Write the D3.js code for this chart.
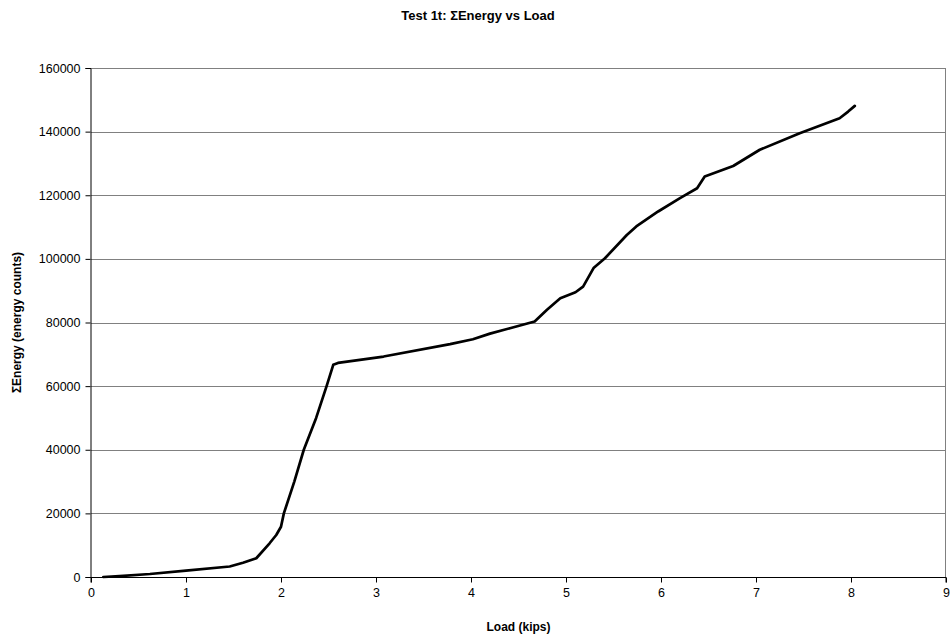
<!DOCTYPE html>
<html>
<head>
<meta charset="utf-8">
<script src="https://cdn.jsdelivr.net/npm/d3@7"></script>
<style>
  body { margin: 0; background: #fff; }
  text { font-family: "Liberation Sans", Arial, sans-serif; }
</style>
</head>
<body>
<div id="container"></div>
<script>
// datos
const loadKips = [0.13, 0.3, 0.62, 1.0, 1.46, 1.6, 1.74, 1.88, 1.95, 2.0, 2.03, 2.14, 2.24, 2.37, 2.48, 2.55, 2.6,
  3.08, 3.78, 4.02, 4.2, 4.41, 4.67, 4.8, 4.94, 5.1, 5.18, 5.29, 5.41, 5.64, 5.74, 5.97, 6.2, 6.38, 6.46, 6.76, 7.04, 7.46, 7.88, 7.97, 8.04];
const energy = [0, 300, 940, 2000, 3300, 4500, 5900, 10600, 13200, 15800, 20000, 30000, 40000, 50000, 60000, 66700, 67300,
  69300, 73200, 74750, 76500, 78200, 80300, 84000, 87600, 89500, 91300, 97100, 100200, 107500, 110200, 114900, 119100, 122200, 125900, 129200, 134300, 139500, 144200, 146300, 148100];
const xTicks = [0, 1, 2, 3, 4, 5, 6, 7, 8, 9];
const yTicks = [0, 20000, 40000, 60000, 80000, 100000, 120000, 140000, 160000];

const rows = loadKips.map((d, i) => ({ load: d, energy: energy[i] }));

const width = 951, height = 639;
const margin = { top: 68, right: 5, bottom: 62, left: 91 };
const w = width - margin.left - margin.right;
const h = height - margin.top - margin.bottom;

const root = d3.select('#container').append('svg')
  .attr('width', width).attr('height', height);

const svg = root.append('g')
  .attr('transform', `translate(${margin.left},${margin.top})`);

const x = d3.scaleLinear().domain([0, 9]).range([0, w]);
const y = d3.scaleLinear().domain([0, 160000]).range([h, 0]);

// rejilla horizontal
svg.selectAll('line.grid')
  .data(yTicks.slice(1))
  .enter().append('line')
    .attr('class', 'grid')
    .attr('x1', 0).attr('x2', w)
    .attr('y1', d => Math.round(y(d)) + 0.5)
    .attr('y2', d => Math.round(y(d)) + 0.5)
    .attr('stroke', '#808080');

// borde derecho
svg.append('line')
  .attr('x1', Math.round(w) - 0.5).attr('x2', Math.round(w) - 0.5)
  .attr('y1', y(160000)).attr('y2', h)
  .attr('stroke', '#808080');

// ejes
const xAxis = svg.append('g')
  .attr('transform', `translate(0,${Math.round(h) + 0.5})`)
  .call(d3.axisBottom(x).tickValues(xTicks).tickSize(5).tickPadding(6).tickFormat(d3.format('d')));
const yAxis = svg.append('g')
  .attr('transform', 'translate(-0.5,0)')
  .call(d3.axisLeft(y).tickValues(yTicks).tickSize(5).tickPadding(5).tickFormat(d3.format('d')));

[xAxis, yAxis].forEach(a => {
  a.select('.domain').attr('stroke', '#000');
  a.selectAll('.tick line').attr('stroke', '#000');
  a.selectAll('.tick text')
    .attr('fill', '#000')
    .style('font-family', '"Liberation Sans", Arial, sans-serif')
    .style('font-size', '12.5px');
});
xAxis.select('.domain').attr('d', `M0,5V0H${w}V5`);

// línea de datos
const line = d3.line()
  .x(d => x(d.load))
  .y(d => y(d.energy));
svg.append('path')
  .datum(rows)
  .attr('fill', 'none')
  .attr('stroke', '#000')
  .attr('stroke-width', 2.7)
  .attr('stroke-linejoin', 'round')
  .attr('stroke-linecap', 'round')
  .attr('d', line);

// títulos
root.append('text')
  .attr('x', 478).attr('y', 20)
  .attr('text-anchor', 'middle')
  .style('font-size', '13px').style('font-weight', 'bold')
  .text('Test 1t: ΣEnergy vs Load');

root.append('text')
  .attr('x', margin.left + w / 2).attr('y', 631)
  .attr('text-anchor', 'middle')
  .style('font-size', '12px').style('font-weight', 'bold')
  .text('Load (kips)');

root.append('text')
  .attr('transform', `translate(21,${margin.top + h / 2}) rotate(-90)`)
  .attr('text-anchor', 'middle')
  .style('font-size', '12px').style('font-weight', 'bold')
  .text('ΣEnergy (energy counts)');
</script>
</body>
</html>
